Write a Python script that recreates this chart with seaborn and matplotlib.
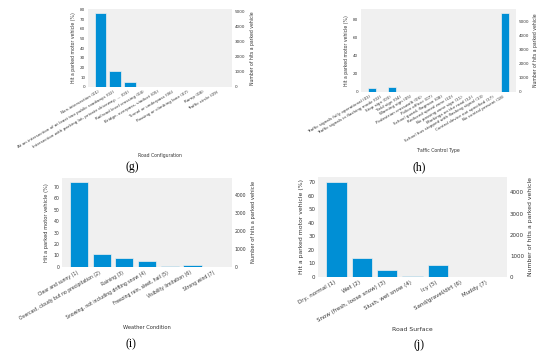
import matplotlib
matplotlib.use("Agg")
import matplotlib.pyplot as plt
import seaborn as sns

# === 1. Data ===
road_config_labels = [
    "Non-intersection (01)",
    "At an intersection of at least two public roadways (02)",
    "Intersection with parking lot, private driveway, ... (03)",
    "Railroad level crossing (04)",
    "Bridge, overpass, viaduct (05)",
    "Tunnel or underpass (06)",
    "Passing or climbing lane (07)",
    "Ramp (08)",
    "Traffic circle (09)",
]
road_config_pct = [76.8, 16.7, 5.3, 0, 0, 0, 0, 0, 0]

traffic_control_labels = [
    "Traffic signals fully operational (01)",
    "Traffic signals in flashing mode (02)",
    "Stop sign (03)",
    "Yield sign (04)",
    "Warning sign (05)",
    "Pedestrian crosswalk (06)",
    "Police officer (07)",
    "School guard, flagman (08)",
    "Reduced speed zone (10)",
    "No passing zone sign (11)",
    "Markings on the road (12)",
    "School bus stopped with flashing signal (13)",
    "Control device not specified (17)",
    "No control present (18)",
]
traffic_control_pct = [4.9, 0, 6.0, 0, 0, 0, 0, 0, 0, 0, 0, 0, 0, 87.5]

weather_labels = [
    "Clear and sunny (1)",
    "Overcast, cloudy but no precipitation (2)",
    "Raining (3)",
    "Snowing, not including drifting snow (4)",
    "Freezing rain, sleet, hail (5)",
    "Visibility limitation (6)",
    "Strong wind (7)",
]
weather_pct = [73.9, 11.3, 7.4, 4.8, 0.7, 1.8, 0]

surface_labels = [
    "Dry, normal (1)",
    "Wet (2)",
    "Snow (fresh, loose snow) (3)",
    "Slush, wet snow (4)",
    "Icy (5)",
    "Sand/gravel/dirt (6)",
    "Muddy (7)",
]
surface_pct = [70.5, 14.0, 4.9, 1.0, 8.5, 0, 0]

# total number of hits, links the % axis to the count axis
total_hits = 6400

# === 2. Style ===
sns.set_theme(style="white", rc={
    "axes.facecolor": "#f0f0f0",
    "figure.facecolor": "white",
    "axes.grid": False,
    "text.color": "#333333",
    "axes.labelcolor": "#333333",
    "xtick.color": "#333333",
    "ytick.color": "#333333",
})
plt.rcParams["font.family"] = ["DejaVu Sans"]

fig = plt.figure(figsize=(5.5, 3.55), dpi=100)

panels = [
    # labels, values, xlabel, rect, tick size, label size, caption, caption pos
    (road_config_labels, road_config_pct, "Road Configuration",
     [0.160, 0.755, 0.262, 0.220], 3.0, 3.3, "(g)", (0.240, 0.530)),
    (traffic_control_labels, traffic_control_pct, "Traffic Control Type",
     [0.656, 0.741, 0.282, 0.234], 3.0, 3.3, "(h)", (0.762, 0.530)),
    (weather_labels, weather_pct, "Weather Condition",
     [0.113, 0.248, 0.309, 0.251], 3.3, 3.7, "(i)", (0.238, 0.031)),
    (surface_labels, surface_pct, "Road Surface",
     [0.578, 0.220, 0.344, 0.282], 4.0, 4.4, "(j)", (0.762, 0.028)),
]

for labels, values, xlabel, rect, tsize, lsize, cap, cpos in panels:
    ax = fig.add_axes(rect)
    sns.barplot(x=labels, y=values, color="#008fd5", saturation=1, width=0.8,
                edgecolor="#f0f0f0", linewidth=0.5, ax=ax)
    n = len(labels)
    pad = 0.05 * (n - 0.2)
    ax.set_xlim(-0.4 - pad, n - 0.6 + pad)
    ax.set_ylim(0, max(values) * 1.05)
    ax.set_xticks(range(n))
    ax.set_xticklabels(labels, rotation=30, ha="right")
    ax.tick_params(axis="both", length=0, pad=2, labelsize=tsize)
    ax.set_xlabel(xlabel, fontsize=lsize, labelpad=3)
    ax.set_ylabel("Hit a parked motor vehicle (%)", fontsize=lsize, labelpad=3)
    for s in ax.spines.values():
        s.set_visible(False)

    ax2 = ax.twinx()
    lo, hi = ax.get_ylim()
    ax2.set_ylim(lo * total_hits / 100, hi * total_hits / 100)
    ax2.tick_params(axis="y", length=0, pad=2, labelsize=tsize)
    ax2.set_ylabel("Number of hits a parked vehicle", fontsize=lsize, labelpad=3)
    ax2.grid(False)
    for s in ax2.spines.values():
        s.set_visible(False)

    fig.text(cpos[0], cpos[1], cap, ha="center", va="center",
             family="Liberation Serif", fontsize=8.5, color="black")

fig.savefig("out.png", dpi=100)
